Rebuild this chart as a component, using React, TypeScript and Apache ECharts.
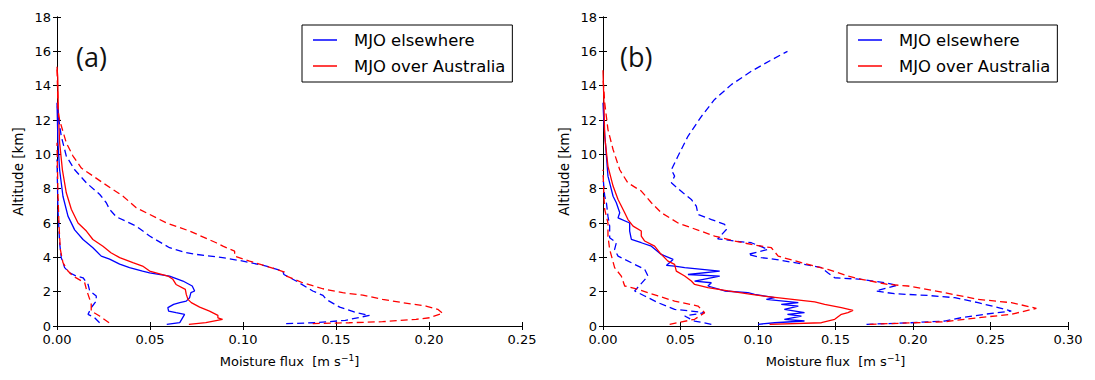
import React, { useEffect, useRef } from "react";
import * as echarts from "echarts";

// ---------- data: [moisture flux (m/s), altitude (km)] ----------
const xTicksA = [0, 0.05, 0.1, 0.15, 0.2, 0.25];
const xTicksB = [0, 0.05, 0.1, 0.15, 0.2, 0.25, 0.3];
const yTicks = [0, 2, 4, 6, 8, 10, 12, 14, 16, 18];
const legendNames = ["MJO elsewhere", "MJO over Australia"];

// Panel (a)
const aBlueSolid = [
  [0.059, 0.1], [0.066, 0.2], [0.0686, 0.68], [0.064, 0.78], [0.06, 0.87], [0.0596, 1.07],
  [0.0627, 1.26], [0.066, 1.36], [0.0695, 1.45], [0.0713, 1.65], [0.072, 1.94], [0.074, 2.04],
  [0.0727, 2.33], [0.0677, 2.62], [0.0605, 2.9], [0.0498, 3.1], [0.046, 3.2], [0.039, 3.4],
  [0.0337, 3.6], [0.0283, 3.9], [0.0238, 4.07], [0.0193, 4.56], [0.014, 5.04], [0.0095, 5.6],
  [0.0059, 6.4], [0.0032, 7.56], [0.0014, 9.1], [0.0005, 10.7], [0.0, 13.0],
];
const aRedSolid = [
  [0.0709, 0.1], [0.08, 0.2], [0.089, 0.39], [0.0865, 0.48], [0.0865, 0.62], [0.082, 0.87],
  [0.0767, 1.1], [0.0722, 1.36], [0.0704, 1.55], [0.0695, 1.84], [0.069, 2.13], [0.064, 2.42],
  [0.0623, 2.72], [0.0596, 2.91], [0.0498, 3.2], [0.046, 3.49], [0.0408, 3.69], [0.0337, 3.98],
  [0.029, 4.27], [0.0247, 4.65], [0.0193, 5.04], [0.0158, 5.53], [0.0113, 6.0], [0.0077, 6.8],
  [0.005, 7.76], [0.0029, 9.1], [0.0014, 10.7], [0.0007, 12.6], [0.0004, 14.5], [0.0, 15.1],
];
const aBlueDashBig = [
  [0.1232, 0.14], [0.139, 0.19], [0.155, 0.33], [0.168, 0.62], [0.161, 0.78], [0.152, 1.1],
  [0.1447, 1.55], [0.143, 1.78], [0.1375, 2.04], [0.1286, 2.62], [0.122, 3.0], [0.1214, 3.2],
  [0.1125, 3.49], [0.1, 3.78], [0.089, 3.98], [0.075, 4.17], [0.0695, 4.27], [0.0605, 4.56],
  [0.0498, 5.24], [0.0426, 5.82], [0.0319, 6.36], [0.0283, 6.79], [0.0265, 7.18], [0.023, 7.66],
  [0.0158, 8.34], [0.0095, 9.1], [0.005, 9.9], [0.0023, 11.05], [0.001, 12.0], [0.0, 13.0],
];
const aRedDashBig = [
  [0.1375, 0.14], [0.157, 0.19], [0.175, 0.25], [0.193, 0.39], [0.2003, 0.48], [0.2074, 0.74],
  [0.2047, 0.97], [0.1984, 1.16], [0.186, 1.36], [0.175, 1.55], [0.1644, 1.8], [0.1536, 1.94],
  [0.1429, 2.17], [0.132, 2.52], [0.1234, 2.91], [0.1223, 3.14], [0.1125, 3.49], [0.1035, 3.78],
  [0.0955, 4.07], [0.0955, 4.36], [0.0892, 4.65], [0.0856, 4.85], [0.0713, 5.53], [0.0587, 6.01],
  [0.0498, 6.5], [0.0426, 6.89], [0.0355, 7.56], [0.0247, 8.34], [0.0131, 9.2], [0.0086, 9.9],
  [0.005, 10.67], [0.0014, 12.0], [0.0005, 12.6], [0.0003, 13.8], [0.0, 15.0],
];
const aBlueDashSmall = [
  [0.0229, 0.19], [0.0202, 0.48], [0.0167, 0.68], [0.0184, 1.07], [0.0211, 1.45], [0.0211, 1.75],
  [0.0176, 2.04], [0.0167, 2.42], [0.014, 2.81], [0.0104, 2.91], [0.0068, 3.1], [0.0041, 3.4],
  [0.0023, 3.98], [0.0014, 4.85], [0.0005, 6.8], [0.0, 9.7],
];
const aRedDashSmall = [
  [0.028, 0.19], [0.0229, 0.58], [0.0184, 0.87], [0.0184, 1.26], [0.0176, 1.55], [0.0167, 1.84],
  [0.0158, 2.13], [0.0149, 2.52], [0.0086, 2.91], [0.0059, 3.2], [0.0032, 3.69], [0.0018, 4.46],
  [0.0011, 5.82], [0.0005, 7.76], [0.0, 10.67],
];

// Panel (b)
const bBlueSolid = [
  [0.1, 0.1], [0.1108, 0.19], [0.13, 0.29], [0.117, 0.39], [0.128, 0.58], [0.119, 0.68],
  [0.13, 0.78], [0.117, 0.97], [0.126, 1.16], [0.115, 1.26], [0.126, 1.36], [0.1054, 1.55],
  [0.1108, 1.65], [0.0978, 1.84], [0.0935, 1.94], [0.0785, 2.04], [0.0677, 2.33], [0.0699, 2.52],
  [0.0591, 2.62], [0.0753, 2.91], [0.0548, 3.0], [0.0753, 3.2], [0.0527, 3.4], [0.0462, 3.49],
  [0.0409, 3.53], [0.0452, 3.88], [0.0376, 4.17], [0.0312, 4.65], [0.0247, 4.85], [0.0183, 5.04],
  [0.0172, 5.53], [0.0172, 6.0], [0.0097, 6.3], [0.0108, 6.6], [0.0086, 7.18], [0.0065, 7.56],
  [0.0032, 8.73], [0.0022, 9.9], [0.0006, 11.8], [0.0, 13.0],
];
const bRedSolid = [
  [0.1075, 0.1], [0.1409, 0.19], [0.1495, 0.39], [0.1538, 0.68], [0.158, 0.78], [0.1613, 0.91],
  [0.1538, 1.07], [0.143, 1.26], [0.1366, 1.4], [0.1065, 1.71], [0.0957, 1.84], [0.0806, 2.04],
  [0.0677, 2.23], [0.0591, 2.42], [0.057, 2.62], [0.0527, 2.91], [0.0473, 3.2], [0.0462, 3.59],
  [0.0419, 3.78], [0.0366, 4.27], [0.0333, 4.65], [0.0269, 4.95], [0.0247, 5.24], [0.0247, 5.53],
  [0.0194, 5.82], [0.0161, 6.2], [0.014, 6.6], [0.0097, 7.37], [0.0065, 8.15], [0.0032, 9.3],
  [0.0011, 11.05], [0.0006, 13.0], [0.0, 14.9],
];
const bBlueDashBig = [
  [0.17, 0.1], [0.199, 0.19], [0.2204, 0.29], [0.231, 0.48], [0.246, 0.68], [0.2634, 0.87],
  [0.255, 1.07], [0.242, 1.36], [0.227, 1.65], [0.2097, 1.78], [0.188, 1.88], [0.176, 2.04],
  [0.19, 2.37], [0.182, 2.52], [0.1667, 2.72], [0.1495, 2.81], [0.145, 3.1], [0.141, 3.4],
  [0.1237, 3.69], [0.1086, 3.92], [0.102, 3.98], [0.0935, 4.17], [0.1065, 4.46], [0.0957, 4.85],
  [0.085, 4.95], [0.074, 5.08], [0.0796, 5.62], [0.0785, 5.92], [0.07, 6.2], [0.0613, 6.5],
  [0.0602, 6.98], [0.057, 7.37], [0.0516, 7.76], [0.0441, 8.34], [0.0462, 8.73], [0.0441, 9.1],
  [0.0484, 9.9], [0.0548, 11.05], [0.0634, 12.2], [0.072, 13.2], [0.0828, 14.06], [0.0957, 14.84],
  [0.1086, 15.5], [0.119, 16.0],
];
const bRedDashBig = [
  [0.172, 0.1], [0.201, 0.19], [0.2204, 0.25], [0.242, 0.48], [0.2634, 0.68], [0.2796, 1.03],
  [0.2634, 1.36], [0.242, 1.55], [0.2204, 1.94], [0.1968, 2.33], [0.184, 2.42], [0.1667, 2.72],
  [0.158, 2.91], [0.145, 3.3], [0.128, 3.69], [0.113, 4.07], [0.1086, 4.56], [0.0957, 4.75],
  [0.085, 4.95], [0.072, 5.24], [0.063, 5.53], [0.0484, 6.0], [0.0376, 6.6], [0.0312, 7.18],
  [0.0247, 7.86], [0.016, 8.34], [0.0108, 9.1], [0.0065, 10.28], [0.0032, 11.44], [0.0011, 13.0],
  [0.0, 14.5],
];
const bBlueDashSmall = [
  [0.0699, 0.1], [0.059, 0.29], [0.0527, 0.58], [0.0656, 0.78], [0.0462, 0.97], [0.0355, 1.36],
  [0.0269, 1.75], [0.0204, 2.04], [0.029, 2.91], [0.0269, 3.3], [0.0204, 3.59], [0.0097, 4.07],
  [0.0075, 4.46], [0.0086, 4.85], [0.0043, 5.14], [0.0043, 5.82], [0.0032, 6.4], [0.0022, 7.18],
  [0.0011, 7.56], [0.0, 8.7],
];
const bRedDashSmall = [
  [0.043, 0.1], [0.0591, 0.39], [0.0656, 0.78], [0.0613, 1.16], [0.0462, 1.45], [0.0355, 1.75],
  [0.0226, 2.13], [0.014, 2.33], [0.0118, 2.91], [0.0075, 3.4], [0.0043, 4.46], [0.0032, 5.24],
  [0.0032, 6.0], [0.0011, 6.79], [0.0006, 7.56], [0.0, 9.1],
];

const BLUE = "#0000ff";
const RED = "#ff0000";
const FONT = "DejaVu Sans";

function line(name: string, data: number[][], color: string, dashed: boolean, axis: number) {
  return {
    type: "line",
    name,
    data,
    xAxisIndex: axis,
    yAxisIndex: axis,
    showSymbol: false,
    symbol: "none",
    silent: true,
    color,
    itemStyle: { color },
    lineStyle: { color, width: 1.3, type: dashed ? [7, 4] : "solid" },
  };
}

function xAxes(grid: number, max: number, bottom: boolean) {
  return {
    type: "value",
    gridIndex: grid,
    position: bottom ? "bottom" : "top",
    min: 0,
    max,
    interval: 0.05,
    axisLine: { show: true, lineStyle: { color: "#000", width: 1 } },
    axisTick: { show: true, inside: true, length: 4, lineStyle: { color: "#000" } },
    axisLabel: {
      show: bottom,
      color: "#000",
      fontSize: 13,
      fontFamily: FONT,
      margin: 7,
      lineHeight: 12,
      formatter: (v: number) => v.toFixed(2),
    },
    splitLine: { show: false },
    name: bottom ? "Moisture flux  [m s{sup|−1}]" : "",
    nameLocation: "middle",
    nameGap: 27,
    nameTextStyle: {
      color: "#000",
      fontSize: 13,
      fontFamily: FONT,
      rich: { sup: { fontSize: 9, verticalAlign: "top", padding: [0, 0, 8, 0], fontFamily: FONT, color: "#000" } },
    },
  };
}

function yAxes(grid: number, left: boolean) {
  return {
    type: "value",
    gridIndex: grid,
    position: left ? "left" : "right",
    min: 0,
    max: 18,
    interval: 2,
    axisLine: { show: true, lineStyle: { color: "#000", width: 1 } },
    axisTick: { show: true, inside: true, length: 4, lineStyle: { color: "#000" } },
    axisLabel: { show: left, color: "#000", fontSize: 13, fontFamily: FONT, margin: 6, lineHeight: 11 },
    splitLine: { show: false },
    name: left ? "Altitude [km]" : "",
    nameLocation: "middle",
    nameGap: 32,
    nameRotate: 90,
    nameTextStyle: { color: "#000", fontSize: 13.5, fontFamily: FONT },
  };
}

function legend(left: number) {
  return {
    left,
    top: 25,
    orient: "vertical",
    data: legendNames,
    icon: "rect",
    itemWidth: 24,
    itemHeight: 1.5,
    itemGap: 6,
    selectedMode: false,
    padding: [5, 7, 6, 11],
    borderColor: "#000",
    borderWidth: 1,
    borderRadius: 0,
    backgroundColor: "#fff",
    textStyle: { fontSize: 16.4, fontFamily: FONT, color: "#000", padding: [0, 0, 0, 12], lineHeight: 20 },
  };
}

export default function App() {
  const ref = useRef<HTMLDivElement>(null);
  useEffect(() => {
    if (!ref.current) return;
    const chart = echarts.init(ref.current, null, { renderer: "svg" });
    chart.setOption({
      animation: false,
      backgroundColor: "#fff",
      grid: [
        { left: 57, top: 17, width: 465, height: 309 },
        { left: 603, top: 17, width: 465, height: 309 },
      ],
      xAxis: [
        xAxes(0, xTicksA[xTicksA.length - 1], true),
        xAxes(0, xTicksA[xTicksA.length - 1], false),
        xAxes(1, xTicksB[xTicksB.length - 1], true),
        xAxes(1, xTicksB[xTicksB.length - 1], false),
      ],
      yAxis: [
        { ...yAxes(0, true), max: yTicks[yTicks.length - 1] },
        { ...yAxes(0, false), max: yTicks[yTicks.length - 1] },
        { ...yAxes(1, true), max: yTicks[yTicks.length - 1] },
        { ...yAxes(1, false), max: yTicks[yTicks.length - 1] },
      ],
      legend: [legend(302), legend(847)],
      graphic: [
        { type: "text", left: 76, top: 43, style: { text: "(a)", fontSize: 27, fontFamily: "Open Sans", fill: "#111" } },
        { type: "text", left: 620, top: 43, style: { text: "(b)", fontSize: 27, fontFamily: "Open Sans", fill: "#111" } },
      ],
      series: [
        line("MJO elsewhere", aBlueSolid, BLUE, false, 0),
        line("MJO over Australia", aRedSolid, RED, false, 0),
        line("a-blue-dash", aBlueDashBig, BLUE, true, 0),
        line("a-red-dash", aRedDashBig, RED, true, 0),
        line("a-blue-dash-small", aBlueDashSmall, BLUE, true, 0),
        line("a-red-dash-small", aRedDashSmall, RED, true, 0),
        line("MJO elsewhere", bBlueSolid, BLUE, false, 2),
        line("MJO over Australia", bRedSolid, RED, false, 2),
        line("b-blue-dash", bBlueDashBig, BLUE, true, 2),
        line("b-red-dash", bRedDashBig, RED, true, 2),
        line("b-blue-dash-small", bBlueDashSmall, BLUE, true, 2),
        line("b-red-dash-small", bRedDashSmall, RED, true, 2),
      ],
    });
    return () => chart.dispose();
  }, []);
  return (
    <div
      ref={ref}
      style={{ position: "fixed", left: 0, top: 0, width: 1095, height: 380, background: "#fff" }}
    />
  );
}
